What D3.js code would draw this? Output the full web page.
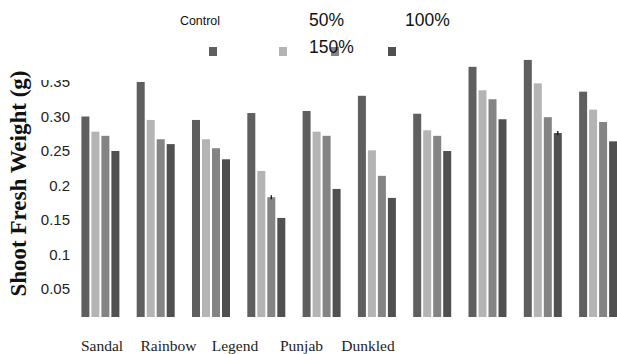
<!DOCTYPE html>
<html>
<head>
<meta charset="utf-8">
<script src="https://cdn.jsdelivr.net/npm/d3@7"></script>
<style>
  body { margin: 0; background: #fff; }
  svg { display: block; }
</style>
</head>
<body>
<svg width="617" height="354"></svg>
<script>
// data
const groups = [1, 2, 3, 4, 5, 6, 7, 8, 9, 10];
const cultivars = ['Sandal', 'Rainbow', 'Legend', 'Punjab', 'Dunkled'];
const series = ['Control', '50%', '100%', '150%'];
const control = [0.300, 0.350, 0.295, 0.305, 0.308, 0.330, 0.304, 0.372, 0.382, 0.336];
const pct50   = [0.278, 0.295, 0.267, 0.221, 0.278, 0.251, 0.280, 0.338, 0.348, 0.310];
const pct100  = [0.272, 0.267, 0.254, 0.183, 0.272, 0.214, 0.272, 0.325, 0.299, 0.292];
const pct150  = [0.250, 0.260, 0.238, 0.153, 0.195, 0.182, 0.250, 0.296, 0.276, 0.264];
const errors  = [{g: 4, s: '100%', e: 0.003}, {g: 9, s: '150%', e: 0.003}];
const yTicks = [0.05, 0.1, 0.15, 0.2, 0.25, 0.30, 0.35];
const yTickLabels = ['0.05', '0.1', '0.15', '0.2', '0.25', '0.30', '0.35'];

const values = {'Control': control, '50%': pct50, '100%': pct100, '150%': pct150};
const colors = ['#5f5f5f', '#b4b4b4', '#848484', '#505050'];

var svg = d3.select('svg');
const baseY = 317;

const y = d3.scaleLinear().domain([0, 0.35]).range([323.5, 82]);

const x0 = d3.scaleBand().domain(groups)
    .range([72, 626.5]).paddingInner(0.313).paddingOuter(0.17);
const x1 = d3.scaleBand().domain(series)
    .range([0, x0.bandwidth()]).paddingInner(0.2);
const color = d3.scaleOrdinal().domain(series).range(colors);

// bars
const gBars = svg.selectAll('g.grp').data(groups)
  .enter().append('g')
    .attr('class', 'grp')
    .attr('transform', d => `translate(${x0(d)},0)`);

gBars.selectAll('rect')
  .data(g => series.map(s => ({s: s, v: values[s][g - 1]})))
  .enter().append('rect')
    .attr('x', d => x1(d.s))
    .attr('y', d => y(d.v))
    .attr('width', x1.bandwidth())
    .attr('height', d => baseY - y(d.v))
    .attr('fill', d => color(d.s));

// small error bars
svg.selectAll('line.err').data(errors)
  .enter().append('line')
    .attr('class', 'err')
    .attr('x1', d => x0(d.g) + x1(d.s) + x1.bandwidth() / 2)
    .attr('x2', d => x0(d.g) + x1(d.s) + x1.bandwidth() / 2)
    .attr('y1', d => y(values[d.s][d.g - 1] + d.e))
    .attr('y2', d => y(values[d.s][d.g - 1] - d.e))
    .attr('stroke', '#111')
    .attr('stroke-width', 1.3);

// y axis (labels only), top label cut off as in the original
svg.append('clipPath').attr('id', 'yclip')
  .append('rect').attr('x', -80).attr('y', 80).attr('width', 90).attr('height', 274);

const yAxis = svg.append('g')
    .attr('transform', 'translate(70,0)')
    .attr('clip-path', 'url(#yclip)')
    .call(d3.axisLeft(y).tickValues(yTicks).tickSize(0).tickPadding(0)
      .tickFormat((d, i) => yTickLabels[i]));
yAxis.select('.domain').remove();
yAxis.selectAll('text')
    .attr('font-family', 'Liberation Sans, Arial, sans-serif')
    .attr('font-size', 15)
    .attr('fill', '#222');

svg.append('text')
    .attr('transform', 'translate(26,183.5) rotate(-90)')
    .attr('text-anchor', 'middle')
    .attr('font-family', 'Liberation Serif, Times New Roman, serif')
    .attr('font-weight', 'bold')
    .attr('font-size', 23)
    .attr('fill', '#111')
    .text('Shoot Fresh Weight (g)');

// category labels (not aligned with the bar groups)
const xl = d3.scalePoint().domain(cultivars).range([102, 368]);
svg.selectAll('text.cat').data(cultivars)
  .enter().append('text')
    .attr('class', 'cat')
    .attr('x', d => xl(d))
    .attr('y', 351)
    .attr('text-anchor', 'middle')
    .attr('font-family', 'Liberation Serif, Times New Roman, serif')
    .attr('font-size', 15.5)
    .attr('fill', '#222')
    .text(d => d);

// legend
const legText = [
  {s: 'Control', x: 180, y: 25, size: 12.4},
  {s: '50%', x: 309, y: 26, size: 17.5},
  {s: '100%', x: 405, y: 26, size: 17.5},
  {s: '150%', x: 309, y: 53, size: 17.5}
];
const legSwatch = [209, 279, 331, 388];

svg.selectAll('rect.leg').data(series)
  .enter().append('rect')
    .attr('class', 'leg')
    .attr('x', (d, i) => legSwatch[i])
    .attr('y', 47)
    .attr('width', 8)
    .attr('height', 9)
    .attr('fill', d => color(d));

svg.selectAll('text.leg').data(legText)
  .enter().append('text')
    .attr('class', 'leg')
    .attr('x', d => d.x)
    .attr('y', d => d.y)
    .attr('font-family', 'Liberation Sans, Arial, sans-serif')
    .attr('font-size', d => d.size)
    .attr('fill', '#111')
    .text(d => d.s);
</script>
</body>
</html>
